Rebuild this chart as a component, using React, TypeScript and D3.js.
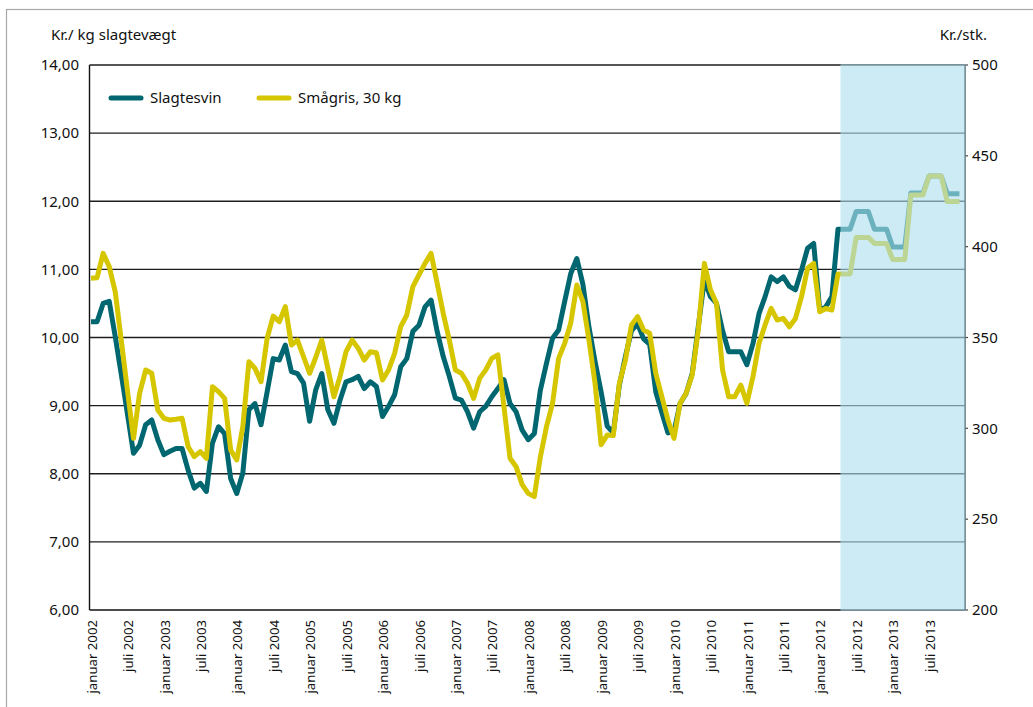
import React, { useRef, useEffect } from 'react';
import * as d3 from 'd3';

// Slagtesvin, kr. pr. kg slagtevægt (monthly, januar 2002 - december 2013)
const slagtesvin2002_2004 = [
  10.23, 10.23, 10.5, 10.53, 10.01, 9.45, 8.88, 8.3, 8.42, 8.72, 8.79, 8.5,
  8.28, 8.33, 8.37, 8.37, 8.05, 7.79, 7.86, 7.74, 8.45, 8.69, 8.59, 7.93,
  7.71, 8.01, 8.94, 9.03, 8.72, 9.2, 9.69, 9.67, 9.89, 9.5, 9.47, 9.33,
];
const slagtesvin2005_2007 = [
  8.77, 9.23, 9.47, 8.94, 8.74, 9.08, 9.35, 9.38, 9.43, 9.25, 9.35, 9.28,
  8.84, 8.99, 9.16, 9.57, 9.69, 10.09, 10.18, 10.45, 10.55, 10.09, 9.72, 9.43,
  9.11, 9.08, 8.91, 8.67, 8.91, 8.99, 9.13, 9.25, 9.38, 9.03, 8.91, 8.64,
];
const slagtesvin2008_2010 = [
  8.5, 8.59, 9.23, 9.62, 9.99, 10.11, 10.53, 10.94, 11.16, 10.78, 10.15, 9.65,
  9.2, 8.7, 8.6, 9.3, 9.72, 10.1, 10.2, 9.98, 9.9, 9.2, 8.9, 8.6,
  8.62, 9.03, 9.18, 9.47, 10.16, 10.85, 10.6, 10.5, 10.1, 9.79, 9.79, 9.79,
];
const slagtesvin2011_2013 = [
  9.6, 9.91, 10.35, 10.6, 10.89, 10.82, 10.89, 10.75, 10.7, 10.99, 11.31, 11.38,
  10.4, 10.45, 10.6, 11.59, 11.59, 11.59, 11.85, 11.85, 11.85, 11.59, 11.59, 11.59,
  11.33, 11.33, 11.33, 12.12, 12.12, 12.12, 12.37, 12.37, 12.37, 12.11, 12.11, 12.11,
];

// Smågris 30 kg, kr. pr. stk.
const smaagris2002_2004 = [
  382.6, 382.9, 396.3, 389, 375, 348, 321, 294.5, 319.3, 332.1, 330.3, 310.1,
  305.5, 304.6, 305, 305.5, 289.9, 284.4, 287.2, 283.5, 322.9, 320.2, 316.5, 288.1,
  282.6, 300.9, 336.7, 333, 325.7, 349.5, 361.8, 358.7, 367, 345.9, 348.6, 339.4,
];
const smaagris2005_2007 = [
  330.3, 339, 348.6, 333, 317.4, 328.4, 342.2, 348.6, 344, 337.6, 342.2, 341.6,
  326.6, 332.1, 341.3, 356, 362.4, 378, 384.4, 390.8, 396.3, 379.8, 363.3, 348.6,
  332.1, 330.3, 324.8, 316.5, 327.5, 332.1, 338.5, 340.4, 312, 283.5, 278.9, 269,
];
const smaagris2008_2010 = [
  264.2, 262.4, 284.4, 300.9, 313.8, 338.5, 346.8, 358, 378.9, 369.7, 348.6, 324.8,
  291, 296.3, 296, 324.8, 337.6, 356.9, 361.5, 354.1, 352.3, 330.3, 317.4, 304.6,
  294.5, 313.8, 319.3, 329.4, 354.1, 390.8, 376.2, 368.8, 332.1, 317.4, 317.4, 323.8,
];
const smaagris2011_2013 = [
  313.8, 328.4, 346.8, 356.9, 366, 359.6, 360.5, 355.9, 360.5, 372.5, 388.1, 390.8,
  364.2, 366, 365.1, 385, 385, 385, 405.1, 405.1, 405.1, 401.8, 401.8, 401.8,
  393, 393, 393, 428.4, 428.4, 428.4, 438.9, 438.9, 438.9, 424.8, 424.8, 424.8,
];

const slagtesvin = [...slagtesvin2002_2004, ...slagtesvin2005_2007, ...slagtesvin2008_2010, ...slagtesvin2011_2013];
const smaagris = [...smaagris2002_2004, ...smaagris2005_2007, ...smaagris2008_2010, ...smaagris2011_2013];

const years = [2002, 2003, 2004, 2005, 2006, 2007, 2008, 2009, 2010, 2011, 2012, 2013];
const halfYearNames = ['januar', 'juli'];
const leftTicks = [6, 7, 8, 9, 10, 11, 12, 13, 14];
const rightTicks = [200, 250, 300, 350, 400, 450, 500];
const forecastFrom = 123; // april 2012

const FONT = "'Noto Sans', 'Open Sans', sans-serif";

const Chart = () => {
  const svgRef = useRef(null);

  useEffect(() => {
    const width = 1033;
    const height = 707;
    const left = 89.5;
    const right = 965;
    const top = 65;
    const bottom = 610;

    const svg = d3.select(svgRef.current);
    svg.selectAll('*').remove();
    svg.attr('width', width).attr('height', height);

    const x = d3.scaleLinear().domain([0, 144]).range([91, right + 0.5]);
    const yL = d3.scaleLinear().domain([6, 14]).range([bottom, top]);
    const yR = d3.scaleLinear().domain([200, 500]).range([bottom, top]);

    // outer frame
    svg.append('rect')
      .attr('x', 6.5).attr('y', 9.5)
      .attr('width', 1040).attr('height', 720)
      .attr('fill', 'none').attr('stroke', '#a8a8a8').attr('stroke-width', 1.2);

    // axis titles
    svg.append('text').attr('x', 51).attr('y', 40)
      .attr('font-family', FONT).attr('font-size', 15).attr('fill', '#111')
      .text('Kr./ kg slagtevægt');
    svg.append('text').attr('x', 987).attr('y', 40).attr('text-anchor', 'end')
      .attr('font-family', FONT).attr('font-size', 15).attr('fill', '#111')
      .text('Kr./stk.');

    // grid lines
    svg.append('g').selectAll('line')
      .data(leftTicks.filter(d => d > 6))
      .join('line')
      .attr('x1', left).attr('x2', right)
      .attr('y1', d => yL(d)).attr('y2', d => yL(d))
      .attr('stroke', '#1e1e1e').attr('stroke-width', 1.4);

    // left tick labels
    svg.append('g').selectAll('text')
      .data(leftTicks)
      .join('text')
      .attr('x', 79).attr('y', d => yL(d))
      .attr('dy', '0.35em').attr('text-anchor', 'end')
      .attr('font-family', FONT).attr('font-size', 15).attr('fill', '#111')
      .text(d => d3.format('.2f')(d).replace('.', ','));

    // right ticks + labels
    const rt = svg.append('g');
    rt.selectAll('line')
      .data(rightTicks)
      .join('line')
      .attr('x1', right).attr('x2', right + 3)
      .attr('y1', d => yR(d)).attr('y2', d => yR(d))
      .attr('stroke', '#444').attr('stroke-width', 1.2);
    rt.selectAll('text')
      .data(rightTicks)
      .join('text')
      .attr('x', 972).attr('y', d => yR(d))
      .attr('dy', '0.35em')
      .attr('font-family', FONT).attr('font-size', 15).attr('fill', '#111')
      .text(d => d);

    // x labels (every half year)
    const xLabels = years.flatMap(yr => halfYearNames.map((n, k) => ({ m: (yr - years[0]) * 12 + k * 6, label: `${n} ${yr}` })));
    svg.append('g').selectAll('text')
      .data(xLabels)
      .join('text')
      .attr('transform', d => `translate(${x(d.m) + 1},${620}) rotate(-90)`)
      .attr('dy', '0.35em').attr('text-anchor', 'end')
      .attr('font-family', FONT).attr('font-size', 13.2).attr('fill', '#111')
      .text(d => d.label);

    // axes lines
    svg.append('line').attr('x1', left).attr('x2', left).attr('y1', top).attr('y2', bottom)
      .attr('stroke', '#111').attr('stroke-width', 1.4);
    svg.append('line').attr('x1', left).attr('x2', right).attr('y1', bottom).attr('y2', bottom)
      .attr('stroke', '#111').attr('stroke-width', 1.4);
    svg.append('line').attr('x1', right).attr('x2', right).attr('y1', top).attr('y2', bottom)
      .attr('stroke', '#111').attr('stroke-width', 1.4);

    // series
    const lineL = d3.line().x((d, i) => x(i)).y(d => yL(d));
    const lineR = d3.line().x((d, i) => x(i)).y(d => yR(d));

    svg.append('path')
      .datum(slagtesvin)
      .attr('d', lineL)
      .attr('fill', 'none').attr('stroke', '#006670')
      .attr('stroke-width', 5).attr('stroke-linejoin', 'round');
    svg.append('path')
      .datum(smaagris)
      .attr('d', lineR)
      .attr('fill', 'none').attr('stroke', '#d6c600')
      .attr('stroke-width', 5).attr('stroke-linejoin', 'round');

    // forecast shading (on top)
    const sx = x(forecastFrom) + 2.5;
    svg.append('rect')
      .attr('x', sx).attr('y', top - 0.7)
      .attr('width', right + 0.7 - sx).attr('height', bottom - top + 1.4)
      .attr('fill', '#afdeef').attr('fill-opacity', 0.62);

    // legend
    const legend = [
      { name: 'Slagtesvin', color: '#006670', x0: 111 },
      { name: 'Smågris, 30 kg', color: '#d6c600', x0: 259 },
    ];
    const lg = svg.append('g').selectAll('g').data(legend).join('g');
    lg.append('line')
      .attr('x1', d => d.x0).attr('x2', d => d.x0 + 30)
      .attr('y1', 98).attr('y2', 98)
      .attr('stroke', d => d.color).attr('stroke-width', 5).attr('stroke-linecap', 'round');
    lg.append('text')
      .attr('x', d => d.x0 + 39).attr('y', 98).attr('dy', '0.35em')
      .attr('font-family', FONT).attr('font-size', 15).attr('fill', '#111')
      .text(d => d.name);
  }, []);

  return <svg ref={svgRef} style={{ position: 'absolute', left: 0, top: 0 }} />;
};

export default function App() {
  return <Chart />;
}
